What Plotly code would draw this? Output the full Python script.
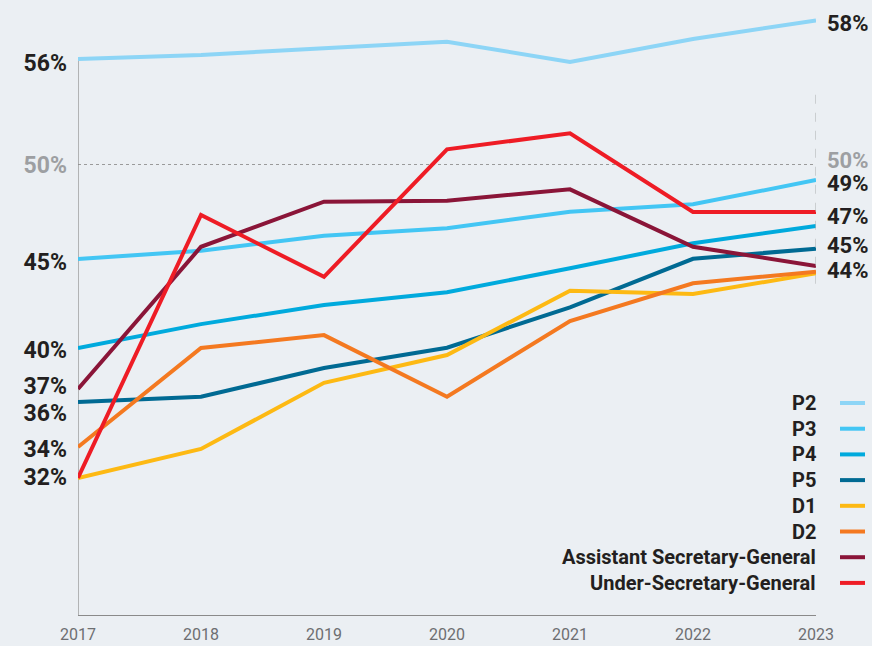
import plotly.graph_objects as go

years = [2017, 2018, 2019, 2020, 2021, 2022, 2023]

series_names = ["P2", "P3", "P4", "P5", "D1", "D2",
                "Assistant Secretary-General", "Under-Secretary-General"]

p2 = [56.04, 56.27, 56.66, 57.03, 55.88, 57.19, 58.25]
p3 = [44.59, 45.06, 45.92, 46.35, 47.30, 47.72, 49.11]
p4 = [39.49, 40.86, 41.95, 42.68, 44.06, 45.49, 46.48]
p5 = [36.40, 36.70, 38.35, 39.51, 41.82, 44.60, 45.18]
d1 = [32.05, 33.71, 37.50, 39.09, 42.77, 42.58, 43.77]
d2 = [33.82, 39.49, 40.23, 36.70, 41.04, 43.20, 43.86]
asg = [37.14, 45.29, 47.87, 47.93, 48.58, 45.29, 44.19]
usg = [32.05, 47.11, 43.57, 50.87, 51.79, 47.28, 47.28]

series_values = [p2, p3, p4, p5, d1, d2, asg, usg]

colors = ["#8dd5f6", "#43c6f4", "#00aadd", "#006a93",
          "#fdb913", "#f47920", "#8a1538", "#ee1c25"]

# left (start) and right (end) value labels
left_tick_text = ["56%", "50%", "45%", "40%", "37%", "36%", "34%", "32%"]
left_tick_vals = [55.8, 50.0, 44.4, 39.4, 37.3, 35.8, 33.7, 32.1]
right_tick_text = ["58%", "50%", "49%", "47%", "45%", "44%"]
right_tick_vals = [58.1, 50.25, 48.92, 47.05, 45.4, 43.95]

DARK = "#231f20"
GREY = "#9d9fa2"
FONT = "Roboto"

def fmt(lbl):
    if lbl == "50%":
        return f"<span style='color:{GREY}'>{lbl}</span>"
    return lbl

Y_RANGE = [24.2, 58.85]

fig = go.Figure()

for name, vals, col in zip(series_names, series_values, colors):
    fig.add_trace(go.Scatter(
        x=years, y=vals, mode="lines", name=name,
        line=dict(color=col, width=4),
        showlegend=False, hoverinfo="skip"))

# dashed marker at the end year (on secondary axis so right labels render)
fig.add_trace(go.Scatter(
    x=[years[-1], years[-1]], y=[54.0, 42.7], mode="lines",
    line=dict(color="#b5b7ba", width=1.2, dash="dash"),
    yaxis="y2", showlegend=False, hoverinfo="skip"))

shapes = []
# 50% dotted reference line
shapes.append(dict(type="line", xref="x", yref="y", x0=years[0], x1=years[-1],
                   y0=50, y1=50, line=dict(color="#9a9a9a", width=1.2, dash="dot"),
                   layer="below"))
# left axis line starting at the first P2 point
shapes.append(dict(type="line", xref="x", yref="y", x0=years[0], x1=years[0],
                   y0=Y_RANGE[0], y1=p2[0], line=dict(color="#8a8a8a", width=1.2),
                   layer="below"))

annotations = []
# custom legend: text right-aligned, line sample on the right
leg_top = 0.3504
leg_step = 0.04248
for i, (name, col) in enumerate(zip(series_names, colors)):
    yy = leg_top - i * leg_step
    annotations.append(dict(xref="paper", yref="paper", x=1.0, y=yy,
                            xanchor="right", yanchor="middle", showarrow=False,
                            text=f"<b>{name}</b>", xshift=2,
                            font=dict(family=FONT, size=20, color=DARK)))
    shapes.append(dict(type="line", xref="paper", yref="paper",
                       x0=1.0325, x1=1.0664, y0=yy, y1=yy,
                       line=dict(color=col, width=4)))

fig.update_layout(
    width=872, height=646,
    margin=dict(l=78, r=56, t=10, b=31, autoexpand=False),
    paper_bgcolor="#ebeff3",
    plot_bgcolor="#ebeff3",
    showlegend=False,
    shapes=shapes,
    annotations=annotations,
    xaxis=dict(
        range=[years[0], years[-1]], automargin=False,
        tickvals=years, ticktext=[str(y) for y in years],
        showgrid=False, zeroline=False,
        showline=True, linecolor="#8a8a8a", linewidth=1.2,
        ticks="", tickfont=dict(family=FONT, size=16, color="#6d6e71"),
        ticklabelstandoff=5,
    ),
    yaxis=dict(
        range=Y_RANGE, automargin=False,
        tickvals=left_tick_vals,
        ticktext=[fmt(t) for t in left_tick_text],
        showgrid=False, zeroline=False, showline=False, ticks="",
        tickfont=dict(family=FONT, size=23, color=DARK, weight="bold"),
        ticklabelstandoff=10,
    ),
    yaxis2=dict(
        range=Y_RANGE, overlaying="y", side="right", anchor="x", automargin=False,
        tickvals=right_tick_vals,
        ticktext=[fmt(t) for t in right_tick_text],
        showgrid=False, zeroline=False, showline=False, ticks="",
        tickfont=dict(family=FONT, size=22, color=DARK, weight="bold"),
        ticklabelstandoff=10,
    ),
)

fig.write_html("out.html",
               config={"displayModeBar": False},
               post_script="document.body.style.margin='0';document.body.style.background='#ebeff3';")
